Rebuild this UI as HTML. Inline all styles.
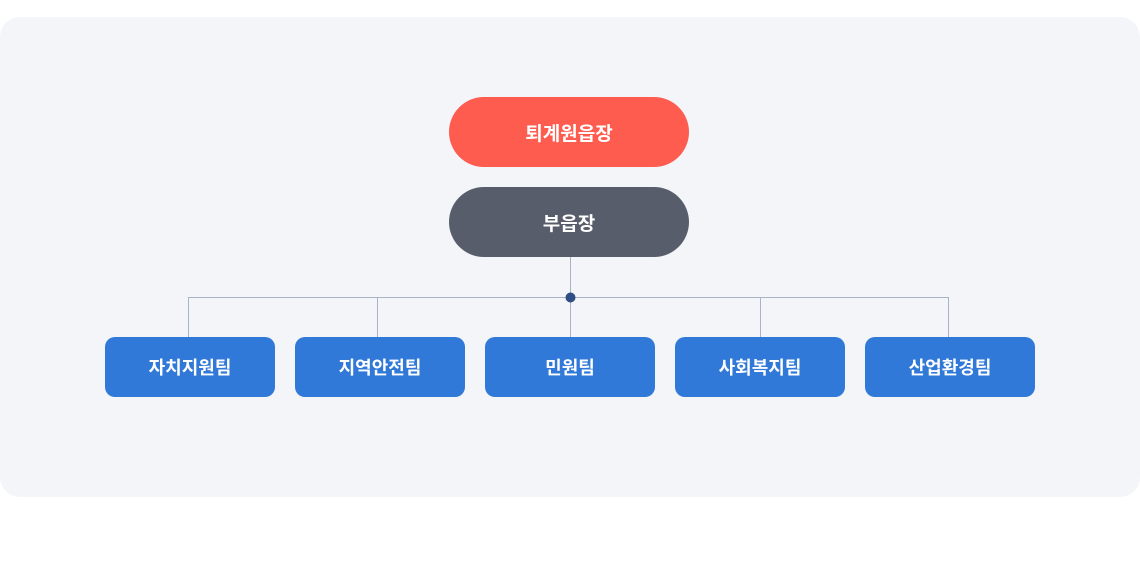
<!DOCTYPE html>
<html><head><meta charset="utf-8"><style>
body{margin:0;width:1140px;height:577px;background:#fff;position:relative;font-family:"Liberation Sans","Noto Sans CJK KR",sans-serif;overflow:hidden}
.panel{position:absolute;left:0;top:17px;width:1140px;height:480px;background:#f3f5f9;border-radius:20px}
.pill{position:absolute;left:449px;width:240px;height:70px;border-radius:35px;color:#fff;font-size:19px;font-weight:bold;display:flex;align-items:center;justify-content:center}
.box{position:absolute;top:337px;width:170px;height:60px;border-radius:10px;background:#3079d8;color:#fff;font-size:18px;font-weight:bold;display:flex;align-items:center;justify-content:center}
svg{position:absolute;left:0;top:0}
</style></head><body>
<div class="panel"></div>
<svg width="1140" height="577">
<g stroke="#a8b3c7" stroke-width="1" fill="none">
<line x1="570.5" y1="257" x2="570.5" y2="337"/>
<line x1="188.5" y1="297.5" x2="948.5" y2="297.5"/>
<line x1="188.5" y1="297" x2="188.5" y2="337"/>
<line x1="377.5" y1="297" x2="377.5" y2="337"/>
<line x1="760.5" y1="297" x2="760.5" y2="337"/>
<line x1="948.5" y1="297" x2="948.5" y2="337"/>
</g>
<circle cx="570.5" cy="297.5" r="5" fill="#2f4f84"/>
</svg>
<div class="pill" style="top:97px;background:#ff5c50">퇴계원읍장</div>
<div class="pill" style="top:187px;background:#585d6c">부읍장</div>
<div class="box" style="left:105px">자치지원팀</div>
<div class="box" style="left:295px">지역안전팀</div>
<div class="box" style="left:485px">민원팀</div>
<div class="box" style="left:675px">사회복지팀</div>
<div class="box" style="left:865px">산업환경팀</div>
</body></html>
